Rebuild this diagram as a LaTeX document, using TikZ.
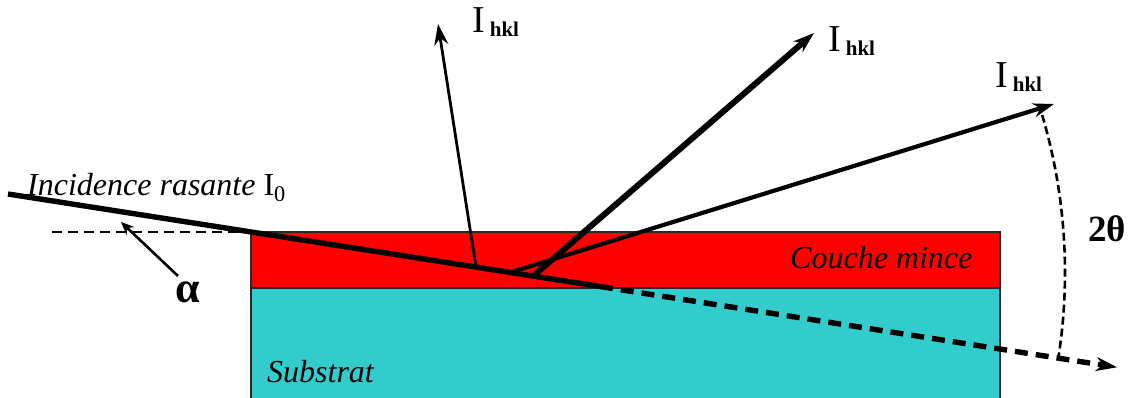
\documentclass[tikz,border=0pt]{standalone}
\usepackage{fontspec}
\setmainfont{Liberation Serif}
\newfontfamily\tnr{Liberation Serif}
\usetikzlibrary{arrows.meta}
\definecolor{layerred}{RGB}{255,0,0}
\definecolor{subcyan}{RGB}{51,204,204}
\definecolor{edgegray}{RGB}{40,40,40}
\newcommand{\Ihkl}{{\tnr\fontsize{38}{38}\selectfont I}\hspace{5pt}\raisebox{-4pt}{\tnr\fontsize{21}{21}\selectfont\bfseries hkl}}
\begin{document}
\begin{tikzpicture}[x=1pt,y=-1pt,
  tip/.style={-{Stealth[length=21pt,width=14pt]}},
  smalltip/.style={-{Stealth[length=13pt,width=11pt]}},
  lbl/.style={inner sep=0pt,anchor=base west},
  itl/.style={inner sep=0pt,anchor=base west,font=\tnr\fontsize{32}{32}\selectfont\itshape},
  dashline/.style={dash pattern=on 10pt off 6pt}]
\useasboundingbox (0,0) rectangle (1134,398);
% layers
\filldraw[fill=layerred,draw=edgegray,line width=1.4pt] (251,232) rectangle (1000,288);
\filldraw[fill=subcyan,draw=edgegray,line width=1.4pt] (251,288) rectangle (1000,402);
% coordinates
\coordinate (S) at (8,194);
\coordinate (P1) at (476,267.1);
\coordinate (P3) at (510,272.5);
\coordinate (P2) at (533,276.1);
\coordinate (B) at (600,286.5);
\coordinate (T) at (1117,367.3);
\coordinate (H0) at (52,232);
\coordinate (H1) at (251,232);
\coordinate (R1) at (438,24);
\coordinate (R2) at (814,33);
\coordinate (R3) at (1054,104);
\coordinate (A0) at (178,276);
\coordinate (A1) at (121,222);
% horizontal reference
\draw[dashline,line width=2.6pt] (H0) -- (H1);
% incident beam
\draw[line width=5.4pt] (S) -- (B);
\draw[line width=5.4pt,dash pattern=on 13pt off 8pt,tip] (B) -- (T);
% diffracted beams
\draw[line width=2.8pt,tip] (P1) -- (R1);
\draw[line width=6pt,tip] (P2) -- (R2);
\draw[line width=4.2pt,tip] (P3) -- (R3);
% alpha arrow
\draw[line width=2.6pt,smalltip] (A0) -- (A1);
% 2theta arc
\draw[line width=2.6pt,dash pattern=on 8pt off 4pt] (P3) ++(-16.5:555) arc[start angle=-16.5,end angle=8.8,radius=555];
% labels
\node[itl] (inc) at (27,195) {Incidence rasante \upshape I\textsubscript{0}};
\node[lbl,font=\tnr\fontsize{44}{44}\selectfont\bfseries] (alpha) at (175,302) {α};
\node[lbl,font=\tnr\fontsize{37}{37}\selectfont\bfseries] (twotheta) at (1088,241) {2θ};
\node[lbl] (I1) at (472,33) {\Ihkl};
\node[lbl] (I2) at (828,52) {\Ihkl};
\node[lbl] (I3) at (995,88) {\Ihkl};
\node[itl] (couche) at (790,268) {Couche mince};
\node[itl] (sub) at (267,382) {Substrat};
\end{tikzpicture}
\end{document}
